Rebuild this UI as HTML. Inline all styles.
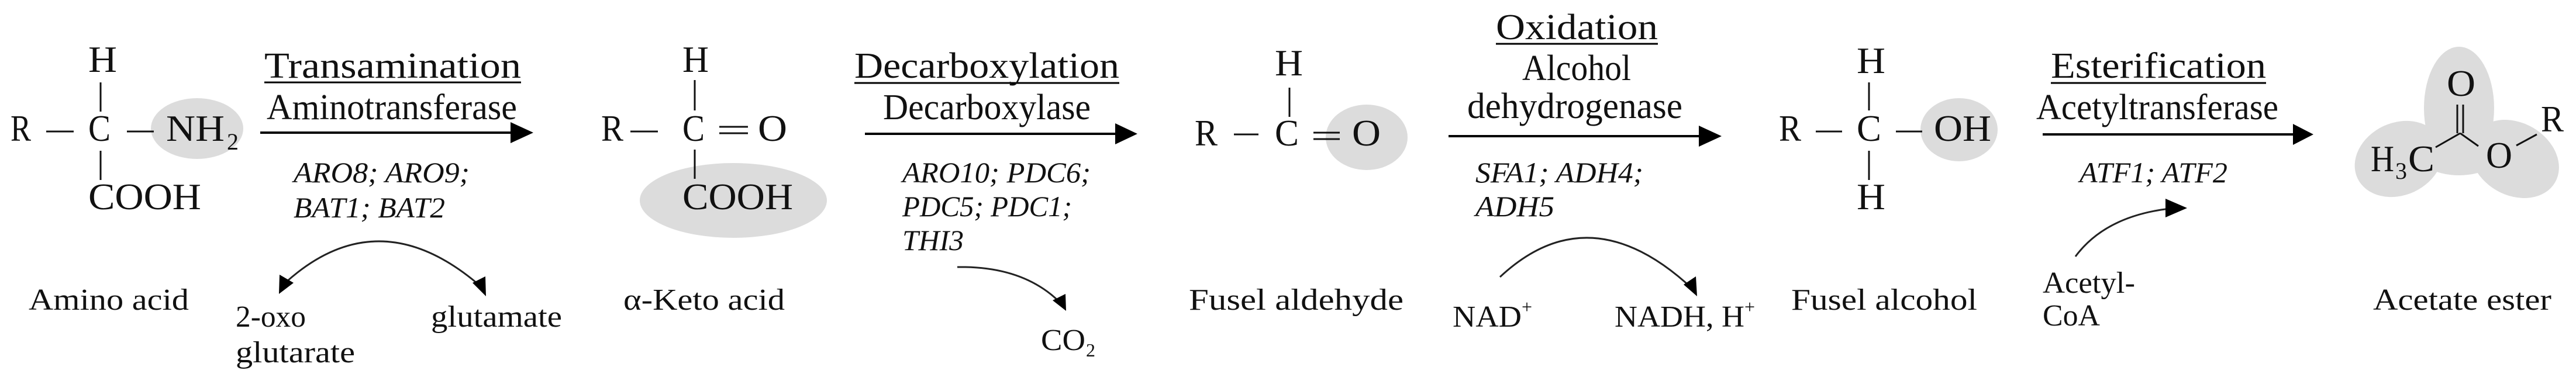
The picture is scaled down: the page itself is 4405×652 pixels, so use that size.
<!DOCTYPE html>
<html><head><meta charset="utf-8"><style>
html,body{margin:0;padding:0;background:#fff;}
svg{display:block;}
text{font-family:"Liberation Serif",serif;fill:#111;}
.i{font-style:italic;}
</style></head><body>
<svg width="4405" height="652" viewBox="0 0 4405 652" xmlns="http://www.w3.org/2000/svg">
<defs>
<marker id="ah" markerWidth="10" markerHeight="10" refX="9" refY="5" orient="auto" markerUnits="userSpaceOnUse" viewBox="0 0 10 10"><path d="M0,0 L10,5 L0,10 z" fill="#000"/></marker>
</defs>
<g fill="#dcdcdc">
<ellipse cx="337" cy="220" rx="79" ry="52"/>
<ellipse cx="1254" cy="343" rx="160" ry="64"/>
<ellipse cx="2337" cy="235" rx="70" ry="56"/>
<ellipse cx="3350" cy="222" rx="66" ry="54"/>
<ellipse cx="4205" cy="185" rx="60" ry="105"/>
<ellipse cx="4102" cy="272" rx="78" ry="62" transform="rotate(-25 4102 272)"/>
<ellipse cx="4300" cy="272" rx="80" ry="62" transform="rotate(30 4300 272)"/>
<ellipse cx="4205" cy="250" rx="80" ry="50"/>
</g>
<g stroke="#111" stroke-width="3" fill="none">
<!-- amino acid -->
<line x1="172" y1="141" x2="172" y2="191"/><line x1="172" y1="258" x2="172" y2="308"/>
<line x1="79" y1="225" x2="126" y2="225"/><line x1="217" y1="225" x2="263" y2="225"/>
<!-- keto -->
<line x1="1188" y1="137" x2="1188" y2="189"/><line x1="1188" y1="256" x2="1188" y2="306"/>
<line x1="1078" y1="225" x2="1125" y2="225"/>
<line x1="1230" y1="217" x2="1279" y2="217"/><line x1="1230" y1="228" x2="1279" y2="228"/>
<!-- aldehyde -->
<line x1="2205" y1="150" x2="2205" y2="200"/>
<line x1="2110" y1="230" x2="2152" y2="230"/>
<line x1="2246" y1="227" x2="2291" y2="227"/><line x1="2246" y1="238" x2="2291" y2="238"/>
<!-- alcohol -->
<line x1="3196" y1="141" x2="3196" y2="189"/><line x1="3196" y1="258" x2="3196" y2="308"/>
<line x1="3105" y1="225" x2="3150" y2="225"/><line x1="3242" y1="225" x2="3287" y2="225"/>
<!-- ester -->
<line x1="4202" y1="179" x2="4202" y2="228"/><line x1="4212" y1="179" x2="4212" y2="228"/>
<line x1="4207" y1="228" x2="4165" y2="252"/><line x1="4207" y1="228" x2="4238" y2="250"/>
<line x1="4303" y1="249" x2="4338" y2="230"/>
</g>
<!-- main arrows -->
<g stroke="#000" stroke-width="4" fill="none">
<line x1="445" y1="227" x2="875" y2="227"/>
<line x1="1479" y1="229" x2="1910" y2="229"/>
<line x1="2477" y1="233" x2="2907" y2="233"/>
<line x1="3493" y1="230" x2="3923" y2="230"/>
<line x1="452" y1="141" x2="891" y2="141" stroke-width="3"/>
<line x1="1461" y1="142" x2="1914" y2="142" stroke-width="3"/>
<line x1="2558" y1="75" x2="2835" y2="75" stroke-width="3"/>
<line x1="3507" y1="142" x2="3875" y2="142" stroke-width="3"/>
</g>
<g fill="#000">
<path d="M873,209 L912,227 L873,245 z"/>
<path d="M1907,211 L1945,229 L1907,247 z"/>
<path d="M2905,215 L2944,233 L2905,251 z"/>
<path d="M3921,212 L3956,230 L3921,248 z"/>
</g>
<!-- curved arrows -->
<g stroke="#222" stroke-width="3" fill="none">
<path d="M490,482 Q649,340 822,490"/>
<path d="M1637,457 Q1752,455 1815,520"/>
<path d="M2565,474 Q2719,330 2895,495"/>
<path d="M3549,439 Q3600,370 3710,357"/>
</g>
<g fill="#000">
<path d="M477,503 L478,470 L502,484 z"/>
<path d="M831,507 L808,484 L830,473 z"/>
<path d="M1823,532 L1800,514 L1822,503 z"/>
<path d="M2902,507 L2879,487 L2900,473 z"/>
<path d="M3740,356 L3703,340 L3703,372 z"/>
</g>
<!-- structure text -->
<g font-size="64">
<text x="151" y="123" textLength="49" lengthAdjust="spacingAndGlyphs">H</text>
<text x="18" y="241" textLength="35" lengthAdjust="spacingAndGlyphs">R</text>
<text x="151" y="241" textLength="38" lengthAdjust="spacingAndGlyphs">C</text>
<text x="284" y="241" textLength="100" lengthAdjust="spacingAndGlyphs">NH</text>
<text x="151" y="358" textLength="193" lengthAdjust="spacingAndGlyphs">COOH</text>

<text x="1167" y="123" textLength="45" lengthAdjust="spacingAndGlyphs">H</text>
<text x="1028" y="241" textLength="38" lengthAdjust="spacingAndGlyphs">R</text>
<text x="1167" y="241" textLength="38" lengthAdjust="spacingAndGlyphs">C</text>
<text x="1296" y="241" textLength="50" lengthAdjust="spacingAndGlyphs">O</text>
<text x="1167" y="358" textLength="189" lengthAdjust="spacingAndGlyphs">COOH</text>

<text x="2180" y="129" textLength="48" lengthAdjust="spacingAndGlyphs">H</text>
<text x="2043" y="249" textLength="39" lengthAdjust="spacingAndGlyphs">R</text>
<text x="2180" y="249" textLength="41" lengthAdjust="spacingAndGlyphs">C</text>
<text x="2312" y="249" textLength="49" lengthAdjust="spacingAndGlyphs">O</text>

<text x="3175" y="125" textLength="49" lengthAdjust="spacingAndGlyphs">H</text>
<text x="3042" y="241" textLength="38" lengthAdjust="spacingAndGlyphs">R</text>
<text x="3175" y="241" textLength="42" lengthAdjust="spacingAndGlyphs">C</text>
<text x="3307" y="241" textLength="98" lengthAdjust="spacingAndGlyphs">OH</text>
<text x="3175" y="358" textLength="49" lengthAdjust="spacingAndGlyphs">H</text>

<text x="4184" y="164" textLength="49" lengthAdjust="spacingAndGlyphs">O</text>
<text x="4054" y="293" textLength="40" lengthAdjust="spacingAndGlyphs">H</text>
<text x="4118" y="293" textLength="45" lengthAdjust="spacingAndGlyphs">C</text>
<text x="4251" y="287" textLength="45" lengthAdjust="spacingAndGlyphs">O</text>
<text x="4345" y="225" textLength="39" lengthAdjust="spacingAndGlyphs">R</text>
</g>
<g font-size="40">
<text x="388" y="256">2</text>
<text x="4096" y="306">3</text>
</g>
<!-- reaction titles -->
<g font-size="62">
<text x="452" y="133" textLength="439" lengthAdjust="spacingAndGlyphs">Transamination</text>
<text x="456" y="204" textLength="428" lengthAdjust="spacingAndGlyphs">Aminotransferase</text>
<text x="1461" y="133" textLength="453" lengthAdjust="spacingAndGlyphs">Decarboxylation</text>
<text x="1510" y="204" textLength="355" lengthAdjust="spacingAndGlyphs">Decarboxylase</text>
<text x="2558" y="67" textLength="277" lengthAdjust="spacingAndGlyphs">Oxidation</text>
<text x="2603" y="137" textLength="186" lengthAdjust="spacingAndGlyphs">Alcohol</text>
<text x="2509" y="202" textLength="368" lengthAdjust="spacingAndGlyphs">dehydrogenase</text>
<text x="3507" y="133" textLength="368" lengthAdjust="spacingAndGlyphs">Esterification</text>
<text x="3482" y="204" textLength="414" lengthAdjust="spacingAndGlyphs">Acetyltransferase</text>
</g>
<!-- genes -->
<g font-size="50" class="i">
<text class="i" x="502" y="312" textLength="301" lengthAdjust="spacingAndGlyphs">ARO8; ARO9;</text>
<text class="i" x="502" y="372" textLength="259" lengthAdjust="spacingAndGlyphs">BAT1; BAT2</text>
<text class="i" x="1543" y="312" textLength="322" lengthAdjust="spacingAndGlyphs">ARO10; PDC6;</text>
<text class="i" x="1543" y="370" textLength="290" lengthAdjust="spacingAndGlyphs">PDC5; PDC1;</text>
<text class="i" x="1543" y="428" textLength="105" lengthAdjust="spacingAndGlyphs">THI3</text>
<text class="i" x="2523" y="312" textLength="287" lengthAdjust="spacingAndGlyphs">SFA1; ADH4;</text>
<text class="i" x="2523" y="370" textLength="135" lengthAdjust="spacingAndGlyphs">ADH5</text>
<text class="i" x="3556" y="312" textLength="253" lengthAdjust="spacingAndGlyphs">ATF1; ATF2</text>
</g>
<!-- labels -->
<g font-size="52">
<text x="49" y="530" textLength="274" lengthAdjust="spacingAndGlyphs">Amino acid</text>
<text x="403" y="559" textLength="120" lengthAdjust="spacingAndGlyphs">2-oxo</text>
<text x="403" y="620" textLength="204" lengthAdjust="spacingAndGlyphs">glutarate</text>
<text x="737" y="559" textLength="224" lengthAdjust="spacingAndGlyphs">glutamate</text>
<text x="1066" y="530" textLength="276" lengthAdjust="spacingAndGlyphs">α-Keto acid</text>
<text x="1780" y="599" textLength="76" lengthAdjust="spacingAndGlyphs">CO</text>
<text x="2033" y="530" textLength="367" lengthAdjust="spacingAndGlyphs">Fusel aldehyde</text>
<text x="2484" y="559" textLength="118" lengthAdjust="spacingAndGlyphs">NAD</text>
<text x="2761" y="559" textLength="222" lengthAdjust="spacingAndGlyphs">NADH, H</text>
<text x="3063" y="530" textLength="318" lengthAdjust="spacingAndGlyphs">Fusel alcohol</text>
<text x="3493" y="501" textLength="158" lengthAdjust="spacingAndGlyphs">Acetyl-</text>
<text x="3493" y="557" textLength="98" lengthAdjust="spacingAndGlyphs">CoA</text>
<text x="4058" y="530" textLength="305" lengthAdjust="spacingAndGlyphs">Acetate ester</text>
</g>
<g font-size="32">
<text x="1857" y="610">2</text>
<text x="2602" y="536">+</text>
<text x="2983" y="536">+</text>
</g>
</svg>
</body></html>
